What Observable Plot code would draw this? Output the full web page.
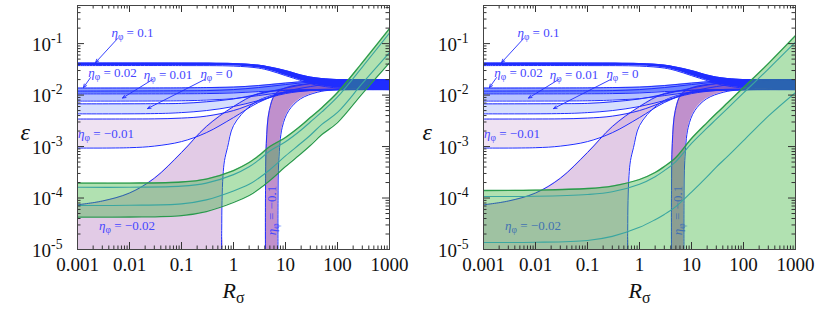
<!DOCTYPE html>
<html><head><meta charset="utf-8">
<script src="https://cdn.jsdelivr.net/npm/d3@7"></script>
<script src="https://cdn.jsdelivr.net/npm/@observablehq/plot@0.6"></script>
<style>
body{margin:0;background:#fff;}
#wrap{display:flex;width:826px;height:317px;overflow:hidden;}
#wrap svg text{font-family:"Liberation Serif","DejaVu Serif",serif !important;}
</style></head><body><div id="wrap"></div>
<script>
// ---------- axes ----------
const xDomain = [0.001, 1000];
const yDomain = [1e-5, 0.55];
const xTicks = [0.001, 0.01, 0.1, 1, 10, 100, 1000];
const xTickLabels = ["0.001", "0.01", "0.1", "1", "10", "100", "1000"];
const yTicks = [1e-1, 1e-2, 1e-3, 1e-4, 1e-5];
const yTickLabels = ["10^{-1}", "10^{-2}", "10^{-3}", "10^{-4}", "10^{-5}"];

// ---------- blue bands (R_sigma, epsilon) ----------
// eta = 0.1
const b01R = [0.001, 0.1, 1, 3, 5, 10, 20, 30, 50, 100, 300, 1000];
const b01Up = [0.0418, 0.0418, 0.0409, 0.0382, 0.0350, 0.0299, 0.0245, 0.0224, 0.0209, 0.0200, 0.0200, 0.0200];
const b01Lo = [0.0374, 0.0374, 0.0366, 0.0335, 0.0299, 0.0239, 0.0191, 0.0167, 0.0150, 0.0137, 0.0130, 0.0128];
// eta = 0.02 and 0.01
const b002R = [0.001, 0.1, 0.3, 1, 3, 10, 30, 100, 1000];
const b002Up = [0.01367, 0.0138, 0.0140, 0.0143, 0.0153, 0.0171, 0.0187, 0.0197, 0.0200];
const b002Lo = [0.01055, 0.0106, 0.01069, 0.0110, 0.01169, 0.0123, 0.0126, 0.0128, 0.0128];
const b001Up = [0.01195, 0.0121, 0.01223, 0.01279, 0.01398, 0.01599, 0.0179, 0.0193, 0.0200];
const b001Lo = [0.00765, 0.00775, 0.0080, 0.00855, 0.00978, 0.0114, 0.0123, 0.0127, 0.0128];
// eta = 0
const b0R = [0.001, 0.03, 0.1, 0.3, 1, 3, 10, 30, 100, 300, 1000];
const b0Up = [0.00675, 0.0068, 0.0069, 0.0074, 0.0084, 0.0104, 0.01367, 0.01672, 0.01912, 0.0198, 0.0200];
const b0Lo = [0.00432, 0.00437, 0.00457, 0.0050, 0.0060, 0.00782, 0.01069, 0.01223, 0.0127, 0.0128, 0.0128];
// eta = -0.01
const bm001R = [0.001, 0.01, 0.03, 0.1, 0.3, 1, 3, 10, 30, 100, 300, 1000];
const bm001Up = [0.00342, 0.00343, 0.00345, 0.00357, 0.0039, 0.0050, 0.00748, 0.01169, 0.01462, 0.01749, 0.01912, 0.0200];
const bm001Lo = [0.000935, 0.00095, 0.00102, 0.00125, 0.00186, 0.00366, 0.00715, 0.01118, 0.0125, 0.0128, 0.0128, 0.0128];
// eta = -0.02
const bm002UpR = [0.001, 0.003, 0.01, 0.03, 0.1, 0.3, 1, 3, 10, 30, 100, 1000];
const bm002UpE = [0.0000738, 0.0000874, 0.000125, 0.000242, 0.000765, 0.002445, 0.00598, 0.01069, 0.0125, 0.0127, 0.0128, 0.0128];
const bm002LoR = [0.001, 0.5875, 0.593, 0.601, 0.628, 0.671, 0.767, 1, 2.12, 4.51, 30, 1000];
const bm002LoE = [1e-5, 1e-5, 2.34e-5, 8.94e-5, 2.73e-4, 5.35e-4, 9.57e-4, 0.00256, 0.00625, 0.00935, 0.0126, 0.0128];
// eta = -0.1
const bm01LeftR = [4.12, 4.13, 4.27, 4.88, 6.42, 10.8, 26.1, 53.8, 1000];
const bm01LeftE = [1e-5, 1.4e-4, 1.14e-3, 0.005, 0.01055, 0.01418, 0.0165, 0.0170, 0.0196];
const bm01RightR = [7.16, 7.18, 7.43, 8.65, 11.57, 19.4, 40.7, 84.9, 1000];
const bm01RightE = [1e-5, 8.94e-5, 5.35e-4, 0.00237, 0.005, 0.00844, 0.01133, 0.0126, 0.0128];

// ---------- green bands ----------
const gR = [0.001, 0.01, 0.1, 0.3, 1, 2, 3, 5, 10, 20, 30, 50, 100, 300, 1000];
// left panel
const gLTop = [0.000195, 0.000195, 0.000205, 0.000234, 0.000342, 0.000489, 0.000654, 0.001, 0.0015, 0.00256, 0.00366, 0.0057, 0.0112, 0.0428, 0.196];
const gLTealUp = [0.000162, 0.000162, 0.000170, 0.000195, 0.000285, 0.000405, 0.00054, 0.00082, 0.00124, 0.0021, 0.003, 0.0047, 0.0092, 0.035, 0.16];
const gLTealLo = [0.0000715, 0.0000722, 0.000077, 0.000092, 0.000137, 0.000185, 0.00024, 0.000355, 0.00066, 0.00117, 0.00166, 0.0027, 0.0046, 0.0168, 0.067];
const gLBot = [0.0000424, 0.0000428, 0.0000457, 0.0000547, 0.0000818, 0.000112, 0.000146, 0.000219, 0.000409, 0.000731, 0.001045, 0.00171, 0.00292, 0.0107, 0.0428];
// right panel
const gRTop = [0.00014, 0.0001425, 0.000153, 0.000171, 0.000229, 0.000313, 0.000409, 0.000612, 0.00143, 0.00292, 0.00437, 0.00715, 0.01398, 0.0409, 0.143];
const gRTealUp = [0.000107, 0.000108, 0.000117, 0.000132, 0.000185, 0.00026, 0.00034, 0.00051, 0.00115, 0.0023, 0.0034, 0.0056, 0.011, 0.032, 0.107];
const gRTealLo = [1.37e-5, 1.38e-5, 1.5e-5, 1.8e-5, 2.7e-5, 3.8e-5, 4.8e-5, 6.8e-5, 1.3e-4, 2.6e-4, 4.0e-4, 6.5e-4, 1.3e-3, 3.9e-3, 0.0112];

// ---------- annotations ----------
const labelTexts = ["η_{φ} = 0.1", "η_{φ} = 0.02", "η_{φ} = 0.01", "η_{φ} = 0", "η_{φ} = −0.01", "η_{φ} = −0.02"];
const labelR = [0.0114, 0.00471, 0.055, 0.471, 0.00353, 0.00895];
const labelE = [0.1636, 0.02735, 0.025, 0.02616, 0.00179, 0.0000292];
const rotLabelText = "η_{φ} = −0.1";
const rotLabelR = 5.38, rotLabelE = 0.0000572;
const arrowR1 = [0.00588, 0.00178, 0.0277, 0.277];
const arrowE1 = [0.125, 0.02186, 0.02, 0.02];
const arrowR2 = [0.00222, 0.0013, 0.00733, 0.0222];
const arrowE2 = [0.0428, 0.01398, 0.00875, 0.00547];

// ---------- helpers ----------
const pts = (R, E) => R.map((r, i) => ({x: r, y: E[i]}));
const pairs = (Ra, Ea, Rb, Eb) => Ra.map((r, i) => ({x1: r, y1: Ea[i], x2: Rb[i], y2: Eb[i]}));
const xMinor = [];
for (let e = -3; e < 3; e++) for (let k = 2; k < 10; k++) xMinor.push(k * 10 ** e);
const yMinor = [];
for (let e = -5; e < 0; e++) for (let k = 2; k < 10; k++) { const v = k * 10 ** e; if (v < 0.55) yMinor.push(v); }

const BLUE = "#1f2dff";
const CURVE = "catmull-rom";
const SERIF = "Liberation Serif";

function panel(ml, mr, green) {
  const W = 413, H = 317, mt = 5, mb = 68;
  const ph = H - mt - mb, pw = W - ml - mr;
  const blueLine = (R, E) => Plot.line(pts(R, E), {x: "x", y: "y", stroke: BLUE, strokeWidth: 1, curve: CURVE, clip: true});
  const band = (d, fill) => Plot.area(d, {x1: "x1", y1: "y1", x2: "x2", y2: "y2", fill, curve: CURVE, clip: true});
  const marks = [
    band(pairs(bm002UpR, bm002UpE, bm002LoR, bm002LoE), "rgba(190,140,200,0.45)"),
    band(pairs(bm001R, bm001Up, bm001R, bm001Lo), "rgba(205,165,215,0.32)"),
    band(pairs(b0R, b0Up, b0R, b0Lo), "rgba(120,145,250,0.3)"),
    band(pairs(b002R, b001Up, b002R, b001Lo), "rgba(80,110,255,0.42)"),
    band(pairs(b002R, b002Up, b002R, b002Lo), "rgba(50,80,255,0.55)"),
    band(pairs(bm01LeftR, bm01LeftE, bm01RightR, bm01RightE), "rgba(150,70,170,0.6)"),
    band(pairs(b01R, b01Up, b01R, b01Lo), BLUE),
    blueLine(bm002UpR, bm002UpE),
    blueLine(bm002LoR.slice(1), bm002LoE.slice(1)),
    blueLine(bm001R, bm001Up), blueLine(bm001R, bm001Lo),
    blueLine(b0R, b0Up), blueLine(b0R, b0Lo),
    blueLine(b002R, b001Up), blueLine(b002R, b001Lo),
    blueLine(b002R, b002Up), blueLine(b002R, b002Lo),
    blueLine(bm01LeftR, bm01LeftE), blueLine(bm01RightR, bm01RightE),
    blueLine(b01R, b01Up), blueLine(b01R, b01Lo),
    Plot.arrow(arrowR1.map((r, i) => ({x1: r, y1: arrowE1[i], x2: arrowR2[i], y2: arrowE2[i]})),
      {x1: "x1", y1: "y1", x2: "x2", y2: "y2", stroke: BLUE, strokeWidth: 0.9, headLength: 6, headAngle: 45}),
    Plot.text(labelTexts.map((t, i) => ({t, x: labelR[i], y: labelE[i]})),
      {x: "x", y: "y", text: "t", fill: "#4646ff", fontSize: 13, fontFamily: SERIF}),
    Plot.text([{t: rotLabelText, x: rotLabelR, y: rotLabelE}],
      {x: "x", y: "y", text: "t", fill: "#4646ff", fontSize: 13, fontFamily: SERIF, rotate: -90})
  ];
  if (green === "band") {
    marks.push(
      Plot.areaY(gR.map((r, i) => ({x: r, lo: gLBot[i], hi: gLTop[i]})), {x: "x", y1: "lo", y2: "hi", fill: "rgba(60,180,60,0.4)", curve: CURVE, clip: true}),
      Plot.line(pts(gR, gLTealUp), {x: "x", y: "y", stroke: "#3aa6a0", strokeWidth: 1.1, curve: CURVE, clip: true}),
      Plot.line(pts(gR, gLTealLo), {x: "x", y: "y", stroke: "#3aa6a0", strokeWidth: 1.1, curve: CURVE, clip: true}),
      Plot.line(pts(gR, gLTop), {x: "x", y: "y", stroke: "#2a9a4c", strokeWidth: 1.3, curve: CURVE, clip: true}),
      Plot.line(pts(gR, gLBot), {x: "x", y: "y", stroke: "#2a9a4c", strokeWidth: 1.3, curve: CURVE, clip: true})
    );
  } else {
    marks.push(
      Plot.areaY(gR.map((r, i) => ({x: r, hi: gRTop[i]})), {x: "x", y1: yDomain[0], y2: "hi", fill: "rgba(60,180,60,0.4)", curve: CURVE, clip: true}),
      Plot.line(pts(gR, gRTealUp), {x: "x", y: "y", stroke: "#3aa6a0", strokeWidth: 1.1, curve: CURVE, clip: true}),
      Plot.line(pts(gR, gRTealLo), {x: "x", y: "y", stroke: "#3aa6a0", strokeWidth: 1.1, curve: CURVE, clip: true}),
      Plot.line(pts(gR, gRTop), {x: "x", y: "y", stroke: "#2a9a4c", strokeWidth: 1.3, curve: CURVE, clip: true})
    );
  }
  const tickColor = "#333";
  marks.push(
    Plot.tickX(xTicks, {x: d => d, stroke: tickColor, insetTop: ph - 7}),
    Plot.tickX(xTicks, {x: d => d, stroke: tickColor, insetBottom: ph - 7}),
    Plot.tickX(xMinor, {x: d => d, stroke: tickColor, insetTop: ph - 3.5}),
    Plot.tickX(xMinor, {x: d => d, stroke: tickColor, insetBottom: ph - 3.5}),
    Plot.tickY(yTicks, {y: d => d, stroke: tickColor, insetRight: pw - 7}),
    Plot.tickY(yTicks, {y: d => d, stroke: tickColor, insetLeft: pw - 7}),
    Plot.tickY(yMinor, {y: d => d, stroke: tickColor, insetRight: pw - 3.5}),
    Plot.tickY(yMinor, {y: d => d, stroke: tickColor, insetLeft: pw - 3.5}),
    Plot.frame({stroke: "#444", strokeWidth: 1}),
    Plot.text(xTicks.map((v, i) => ({v, t: xTickLabels[i]})), {x: "v", text: "t", frameAnchor: "bottom", dy: 21, fontSize: 19, fontFamily: SERIF, fill: "#111"}),
    Plot.text(yTicks.map((v, i) => ({v, t: yTickLabels[i]})), {y: "v", text: "t", frameAnchor: "left", textAnchor: "end", dx: -15, dy: 1, fontSize: 19, fontFamily: SERIF, fill: "#111"}),
    Plot.text(["ε"], {frameAnchor: "left", dx: green === "band" ? -57 : -61, dy: 5, fontSize: 24, fontStyle: "italic", fontFamily: SERIF, fill: "#111"}),
    Plot.text(["R_{σ}"], {frameAnchor: "bottom", dy: 48, fontSize: 22, fontFamily: SERIF, fill: "#111"})
  );
  const svg = Plot.plot({
    width: W, height: H, marginLeft: ml, marginRight: mr, marginTop: mt, marginBottom: mb,
    x: {type: "log", domain: xDomain, axis: null},
    y: {type: "log", domain: yDomain, axis: null},
    style: {background: "white", fontFamily: SERIF, overflow: "visible"},
    marks
  });
  rich(svg);
  return svg;
}

// turn _{..} and ^{..} into sub/superscript tspans, italicise η and R
function rich(svg) {
  d3.select(svg).selectAll("text").each(function () {
    const t = this.textContent;
    if (!/[_^]\{/.test(t)) return;
    let el = this, fs = NaN;
    while (el && isNaN(fs)) { fs = parseFloat(el.getAttribute && el.getAttribute("font-size")); el = el.parentNode; }
    if (isNaN(fs)) fs = 12;
    const sel = d3.select(this);
    sel.text(null);
    const re = /([_^])\{([^}]*)\}/g;
    let last = 0, m;
    const parts = [];
    while ((m = re.exec(t))) {
      if (m.index > last) parts.push({s: t.slice(last, m.index), k: ""});
      parts.push({s: m[2], k: m[1]});
      last = re.lastIndex;
    }
    if (last < t.length) parts.push({s: t.slice(last), k: ""});
    let cur = 0;
    for (const p of parts) {
      const target = p.k === "_" ? 0.25 * fs : p.k === "^" ? -0.42 * fs : 0;
      const pieces = p.k ? [p.s] : p.s.split(/([ηR])/).filter(s => s.length);
      pieces.forEach((s, j) => {
        const ts = sel.append("tspan").text(s);
        if (j === 0 && target !== cur) { ts.attr("dy", (target - cur).toFixed(2)); cur = target; }
        if (p.k) ts.attr("font-size", (0.72 * fs).toFixed(1));
        if (!p.k && (s === "η" || s === "R")) ts.attr("font-style", "italic");
      });
    }
  });
}

const wrap = document.getElementById("wrap");
wrap.appendChild(panel(77, 24, "band"));
wrap.appendChild(panel(70, 31, "region"));
</script></body></html>
